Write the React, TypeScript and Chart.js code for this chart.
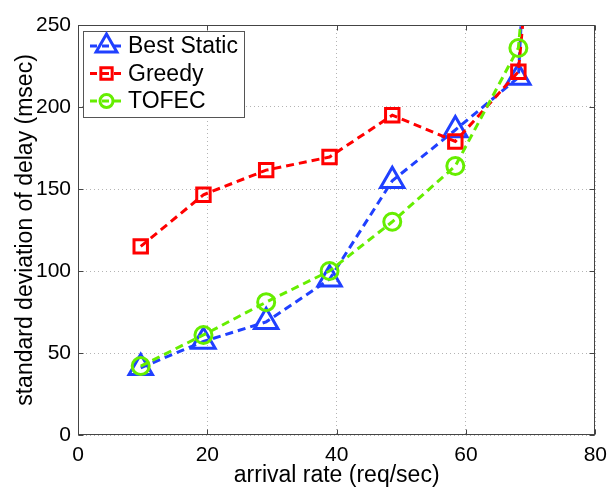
import React, { useEffect, useRef } from 'react';
import { Chart, registerables } from 'chart.js';
import { drawPoint } from 'chart.js/helpers';

Chart.register(...registerables);

const arrivalRates = [9.7, 19.4, 29.1, 38.9, 48.6, 58.35, 68.1, 77.8];
const bestStatic = [41, 57, 69, 95, 155, 186, 218, 970];
const greedy = [115, 146.5, 161.5, 169.5, 195, 179, 221.5, 640];
const tofec = [42, 61, 81, 100, 130, 164, 236, 660];
const xTicks = [0, 20, 40, 60, 80];
const yTicks = [0, 50, 100, 150, 200, 250];
const seriesNames = ['Best Static', 'Greedy', 'TOFEC'];
const seriesColors = ['#2040ff', '#ff0000', '#66ee00'];
const seriesMarkers = ['triangle', 'rect', 'circle'];
const markerRadii = [13.5, 9.5, 8.5];
const legendRadii = [12, 8, 6.5];

const FONT = '"Liberation Sans", Arial, Helvetica, sans-serif';

const framePlugin = {
  id: 'frame',
  afterDatasetsDraw(chart: any) {
    const { ctx, chartArea } = chart;
    const l = Math.round(chartArea.left) + 0.5;
    const r = Math.round(chartArea.right) - 0.5;
    const t = Math.round(chartArea.top) + 0.5;
    const b = Math.round(chartArea.bottom) - 0.5;
    ctx.save();
    ctx.strokeStyle = '#444';
    ctx.lineWidth = 1;
    ctx.setLineDash([]);
    ctx.strokeRect(l, t, r - l, b - t);
    const xs = chart.scales.x;
    const ys = chart.scales.y;
    ctx.beginPath();
    xTicks.forEach((v) => {
      const px = Math.round(xs.getPixelForValue(v)) + 0.5;
      ctx.moveTo(px, b); ctx.lineTo(px, b - 5);
      ctx.moveTo(px, t); ctx.lineTo(px, t + 5);
    });
    yTicks.forEach((v) => {
      const py = Math.round(ys.getPixelForValue(v)) + 0.5;
      ctx.moveTo(l, py); ctx.lineTo(l + 5, py);
      ctx.moveTo(r, py); ctx.lineTo(r - 5, py);
    });
    ctx.stroke();
    ctx.restore();
  },
};

const legendPlugin = {
  id: 'matlabLegend',
  afterDraw(chart: any) {
    const ctx = chart.ctx;
    ctx.save();
    const bx = 83.5, by = 31.5, bw = 161, bh = 86;
    ctx.fillStyle = '#fff';
    ctx.fillRect(bx, by, bw, bh);
    ctx.strokeStyle = '#555';
    ctx.lineWidth = 1;
    ctx.strokeRect(bx, by, bw, bh);
    seriesNames.forEach((name, i) => {
      const y = 46 + i * 27.5;
      ctx.strokeStyle = seriesColors[i];
      ctx.lineWidth = 3;
      ctx.setLineDash([7, 5]);
      ctx.beginPath();
      ctx.moveTo(90, y);
      ctx.lineTo(123, y);
      ctx.stroke();
      ctx.setLineDash([]);
      ctx.fillStyle = 'rgba(0,0,0,0)';
      drawPoint(ctx, { pointStyle: seriesMarkers[i], radius: legendRadii[i], rotation: 0, borderWidth: 3 } as any, 106.5, y);
      ctx.fillStyle = '#000';
      ctx.font = `23px ${FONT}`;
      ctx.textBaseline = 'middle';
      ctx.textAlign = 'left';
      ctx.fillText(name, 128, y + 1);
    });
    ctx.restore();
  },
};

export default function App() {
  const ref = useRef<HTMLCanvasElement | null>(null);
  useEffect(() => {
    if (!ref.current) return;
    const mk = (i: number, vals: number[], order: number) => ({
      label: seriesNames[i],
      data: arrivalRates.map((x, k) => ({ x, y: vals[k] })),
      borderColor: seriesColors[i],
      backgroundColor: 'rgba(0,0,0,0)',
      borderWidth: 3,
      borderDash: [8, 5],
      pointStyle: seriesMarkers[i],
      pointRadius: markerRadii[i],
      pointBorderWidth: 3,
      pointBorderColor: seriesColors[i],
      pointBackgroundColor: 'rgba(0,0,0,0)',
      fill: false,
      tension: 0,
      clip: 0,
      order,
    });
    const tickFont = { family: FONT, size: 21 };
    const titleFont = { family: FONT, size: 23 };
    const chart = new Chart(ref.current, {
      type: 'line',
      data: {
        datasets: [mk(0, bestStatic, 3), mk(1, greedy, 2), mk(2, tofec, 1)] as any,
      },
      options: {
        responsive: false,
        animation: false,
        events: [],
        layout: { padding: { top: 25, right: 18, left: 0, bottom: 0 } },
        plugins: { legend: { display: false }, tooltip: { enabled: false } },
        scales: {
          x: {
            type: 'linear',
            min: 0,
            max: 80,
            afterFit: (s: any) => { s.height = 55; },
            afterBuildTicks: (s: any) => { s.ticks = xTicks.map((v) => ({ value: v })); },
            ticks: { font: tickFont, color: '#000', padding: 8, maxRotation: 0 },
            grid: { color: '#b4b4b4', lineWidth: 1, drawTicks: false },
            border: { display: false, dash: [1, 3] },
            title: { display: true, text: 'arrival rate (req/sec)', font: titleFont, color: '#000', padding: { top: 0, bottom: 1 } },
          },
          y: {
            type: 'linear',
            min: 0,
            max: 250,
            afterFit: (s: any) => { s.width = 78; },
            afterBuildTicks: (s: any) => { s.ticks = yTicks.map((v) => ({ value: v })); },
            ticks: { font: tickFont, color: '#000', padding: 7 },
            grid: { color: '#b4b4b4', lineWidth: 1, drawTicks: false },
            border: { display: false, dash: [1, 3] },
            title: { display: true, text: 'standard deviation of delay (msec)', font: titleFont, color: '#000', padding: { top: 12, bottom: 0 } },
          },
        },
      } as any,
      plugins: [framePlugin, legendPlugin],
    });
    return () => chart.destroy();
  }, []);
  return (
    <div style={{ position: 'fixed', left: 0, top: 0, width: 615, height: 490, background: '#fff' }}>
      <canvas ref={ref} width={615} height={490} style={{ display: 'block' }} />
    </div>
  );
}
